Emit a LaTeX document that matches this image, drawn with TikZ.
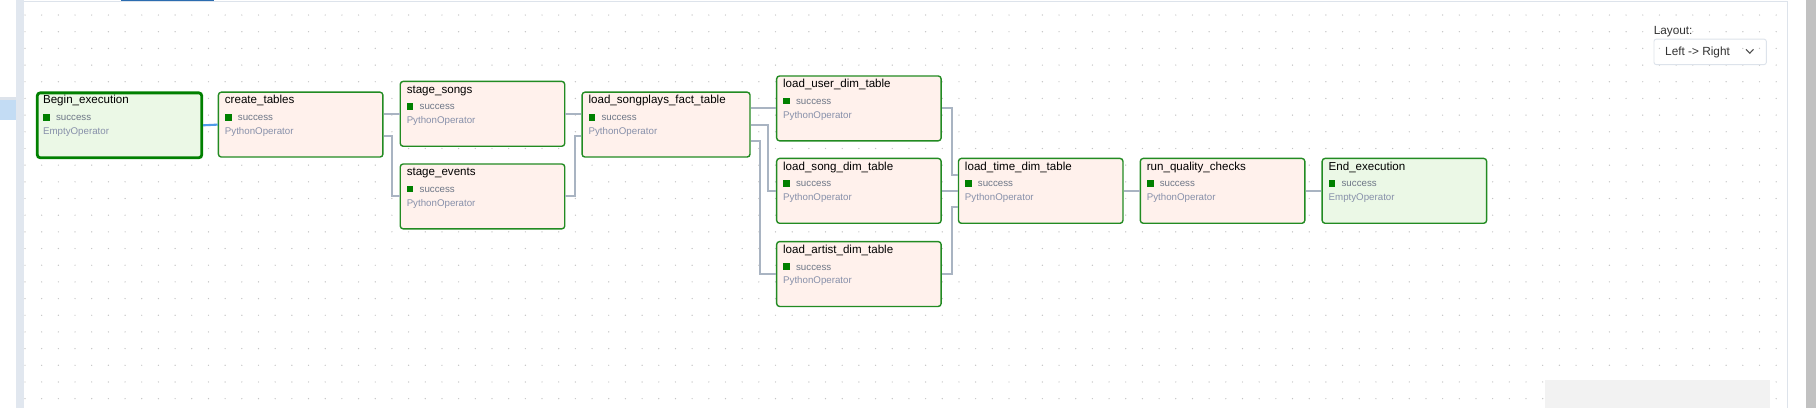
\documentclass[tikz,border=0pt]{standalone}
\usepackage{fontspec}
\setmainfont{Liberation Sans}

\definecolor{okgreen}{HTML}{008000}
\definecolor{boxgreen}{HTML}{228B22}
\definecolor{pyfill}{HTML}{FFF1EC}
\definecolor{emptyfill}{HTML}{EBF8E6}
\definecolor{okgray}{HTML}{6E7787}
\definecolor{opgray}{HTML}{8790AA}
\definecolor{edgegray}{HTML}{A9B4C2}
\definecolor{hlblue}{HTML}{4F9BE8}
\definecolor{dotgray}{HTML}{C4C4C4}
\definecolor{framegray}{HTML}{DDE3EB}
\definecolor{stripgray}{HTML}{E1E7EF}
\definecolor{tabblue}{HTML}{C3DCF4}
\definecolor{tabline}{HTML}{2B6CB0}
\definecolor{scrollgray}{HTML}{C1C1C1}

\begin{document}
\begin{tikzpicture}[x=1pt, y=-1pt,
  task/.style={draw=boxgreen, line width=1.2pt, rounded corners=2.5pt, minimum width=142pt,
    minimum height=56pt, anchor=north west, inner sep=0pt},
  txt/.style={anchor=north west, inner sep=0pt, align=left, font=\fontsize{8.4}{11.8}\selectfont},
  edge/.style={draw=edgegray, line width=1.6pt},
  hl/.style={draw=hlblue, line width=1.8pt}]

				\def\xa{31}
				\def\xb{188}
				\def\xc{345}
				\def\xd{502}
				\def\xe{670}
				\def\xf{827}
				\def\xg{984}
				\def\xh{1141}
				\def\ya{79}
				\def\yb{136.2}

				\def\ttl#1{\rule{0pt}{8pt}{\fontsize{10}{12}\selectfont\color{black}#1}}
				\def\ok{{\color{okgreen}\rule{5.8pt}{5.8pt}}\hspace{5.4pt}{\color{okgray}success}}
				\def\op#1{{\color{opgray}#1}}

				\useasboundingbox (0,0) rectangle (1568,352);
				\fill[white] (0,0) rectangle (1568,352);

				%dot grid
				\foreach \i in {0,...,105}
					\foreach \j in {0,...,23}
						\fill[dotgray] (21.6+\i*14.4,13+\j*14.4) circle (0.6);

				%frame
				\fill[tabblue] (0,86) rectangle (13.8,104);
				\fill[framegray] (0,84) rectangle (13.8,86);
				\fill[stripgray] (13.8,0) rectangle (20.7,352);
				\draw[framegray, line width=0.8pt] (20.7,1.4) -- (1543,1.4) -- (1543,352);
				\fill[tabline] (104.5,0) rectangle (184.5,1.2);
				\fill[scrollgray] (1559,0) rectangle (1568,352);
				\fill[black!5] (1334,328) rectangle (1528,352);

				%tasks
				\node[task, fill=emptyfill, draw=okgreen, line width=2.4pt] (be) at (\xa,\ya) {};
				\node[txt] (be-t) at ([shift={(6,2.6)}]be.north west) {\ttl{Begin\_execution}\\[2.6pt]\ok\\\op{EmptyOperator}};

				\node[task, fill=pyfill] (ct) at (\xb,\ya) {};
				\node[txt] (ct-t) at ([shift={(6,2.6)}]ct.north west) {\ttl{create\_tables}\\[2.6pt]\ok\\\op{PythonOperator}};

				\node[task, fill=pyfill] (ss) at (\xc,69.7) {};
				\node[txt] (ss-t) at ([shift={(6,2.6)}]ss.north west) {\ttl{stage\_songs}\\[2.6pt]\ok\\\op{PythonOperator}};

				\node[task, fill=pyfill] (se) at (\xc,141) {};
				\node[txt] (se-t) at ([shift={(6,2.6)}]se.north west) {\ttl{stage\_events}\\[2.6pt]\ok\\\op{PythonOperator}};

				\node[task, fill=pyfill, minimum width=145pt] (ls) at (\xd,\ya) {};
				\node[txt] (ls-t) at ([shift={(6,2.6)}]ls.north west) {\ttl{load\_songplays\_fact\_table}\\[2.6pt]\ok\\\op{PythonOperator}};

				\node[task, fill=pyfill] (lu) at (\xe,65) {};
				\node[txt] (lu-t) at ([shift={(6,2.6)}]lu.north west) {\ttl{load\_user\_dim\_table}\\[2.6pt]\ok\\\op{PythonOperator}};

				\node[task, fill=pyfill] (lsd) at (\xe,\yb) {};
				\node[txt] (lsd-t) at ([shift={(6,2.6)}]lsd.north west) {\ttl{load\_song\_dim\_table}\\[2.6pt]\ok\\\op{PythonOperator}};

				\node[task, fill=pyfill] (la) at (\xe,208) {};
				\node[txt] (la-t) at ([shift={(6,2.6)}]la.north west) {\ttl{load\_artist\_dim\_table}\\[2.6pt]\ok\\\op{PythonOperator}};

				\node[task, fill=pyfill] (lt) at (\xf,\yb) {};
				\node[txt] (lt-t) at ([shift={(6,2.6)}]lt.north west) {\ttl{load\_time\_dim\_table}\\[2.6pt]\ok\\\op{PythonOperator}};

				\node[task, fill=pyfill] (rq) at (\xg,\yb) {};
				\node[txt] (rq-t) at ([shift={(6,2.6)}]rq.north west) {\ttl{run\_quality\_checks}\\[2.6pt]\ok\\\op{PythonOperator}};

				\node[task, fill=emptyfill] (ee) at (\xh,\yb) {};
				\node[txt] (ee-t) at ([shift={(6,2.6)}]ee.north west) {\ttl{End\_execution}\\[2.6pt]\ok\\\op{EmptyOperator}};

				%edges
				\draw[hl] (be.east) -- (ct.west);
				\draw[edge] ([yshift=9.5pt]ct.east) -- ([yshift=9.5pt]ct.east -| ss.west);
				\draw[edge] ([yshift=-9.5pt]ct.east) -- ++(7,0) |- (se.west);
				\draw[edge] (ss.east) -- (ss.east -| ls.west);
				\draw[edge] (se.east) -- ++(8,0) |- ([yshift=-9.5pt]ls.west);
				\draw[edge] ([yshift=14pt]ls.east) -- ([yshift=14pt]ls.east -| lu.west);
				\draw[edge] (ls.east) -- ++(15,0) |- (lsd.west);
				\draw[edge] ([yshift=-14pt]ls.east) -- ++(8,0) |- (la.west);
				\draw[edge] (lu.east) -- ++(8.6,0) |- ([yshift=14pt]lt.west);
				\draw[edge] (lsd.east) -- (lt.west);
				\draw[edge] (la.east) -- ++(8.6,0) |- ([yshift=-14pt]lt.west);
				\draw[edge] (lt.east) -- (rq.west);
				\draw[edge] (rq.east) -- (ee.west);

				%layout picker
				\node[anchor=base west, inner sep=0pt, font=\fontsize{10.2}{12}\selectfont, text=black!80] (lay) at (1427.7,29.4) {Layout:};
				\node[draw=framegray, line width=0.8pt, rounded corners=2pt, anchor=north west, minimum width=97pt, minimum height=22pt, inner sep=0pt] (pick) at (1427.7,33.4) {};
				\node[anchor=base west, inner sep=0pt, font=\fontsize{10.2}{12}\selectfont, text=black!80] (pick-t) at (1437.6,47.5) {Left -> Right};
				\draw[black!70, line width=0.9pt] (1507.5,42.6) -- (1510.8,46) -- (1514,42.6);

		  \end{tikzpicture}
\end{document}
